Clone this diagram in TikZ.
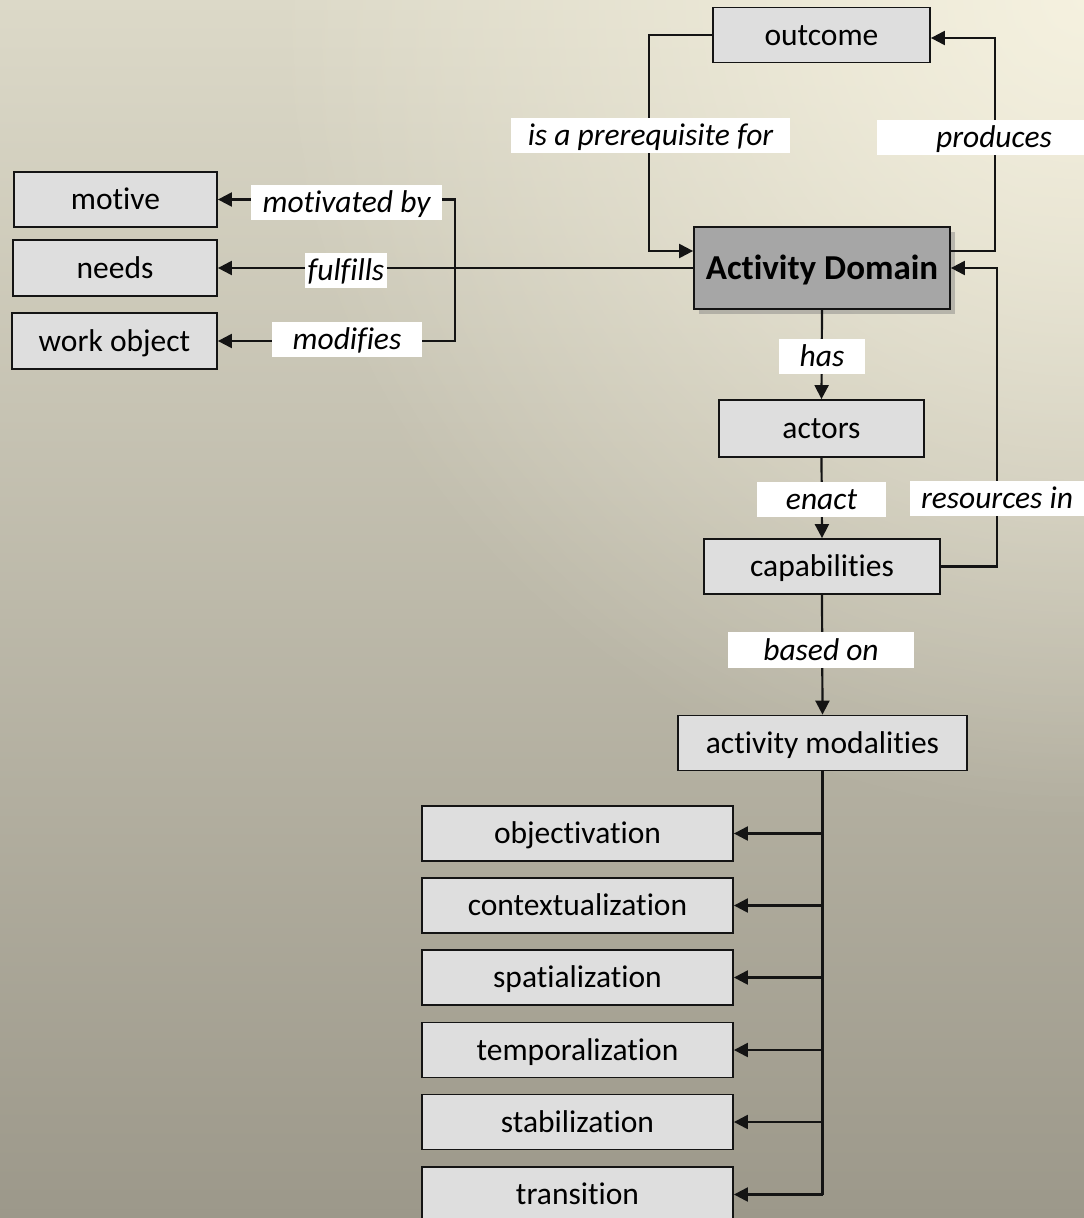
\documentclass[tikz,border=0pt]{standalone}
\usepackage{fontspec}
\setmainfont{Carlito}[Ligatures={NoCommon}]
\usetikzlibrary{arrows.meta,shadows,fadings}
\definecolor{bgtop}{HTML}{DCD9C8}
\definecolor{bgbot}{HTML}{9C988A}
\definecolor{bglight}{HTML}{F8F4E2}
\definecolor{boxfill}{HTML}{DEDEDE}
\definecolor{adfill}{HTML}{A6A6A6}
\definecolor{ink}{HTML}{141414}
\tikzfading[name=myglow, inner color=transparent!0, outer color=transparent!100]
\begin{document}
\begin{tikzpicture}[x=1pt,y=-1pt,
  box/.style={draw=ink, line width=1.8pt, fill=boxfill, inner sep=0pt,
    font=\fontsize{31.5}{38}\selectfont, text height=24pt, text depth=4pt, minimum height=55pt},
  adbox/.style={draw=ink, line width=1.8pt, fill=adfill, inner sep=0pt,
    font=\fontsize{35}{42}\selectfont\bfseries, text height=26pt, text depth=4pt,
    minimum width=256pt, minimum height=82pt,
    drop shadow={opacity=0.45, shadow xshift=5pt, shadow yshift=-5pt}},
  lbl/.style={fill=white, inner sep=0pt, font=\fontsize{31.5}{38}\selectfont\itshape,
    text height=24pt, text depth=4pt, minimum height=35pt},
  ln/.style={draw=ink, line width=2.2pt},
  arr/.style={ln, -{Triangle[length=14pt,width=14pt]}}]
\useasboundingbox (0,0) rectangle (1084,1218);
\shade[top color=bgtop, bottom color=bgbot] (0,0) rectangle (1084,1218);
\fill[bglight, path fading=myglow, fit fading=true, opacity=0.9] (1084,0) circle (820);

% nodes
\node[box, minimum width=217pt] (outcome) at (821.5,35) {outcome};
\node[adbox] (AD) at (822,268) {Activity Domain};
\node[box, minimum width=203pt] (motive) at (115.5,199.5) {motive};
\node[box, minimum width=204pt, minimum height=56pt] (needs) at (115,268) {needs};
\node[box, minimum width=205pt, minimum height=56pt] (work) at (114.5,341) {work object};
\node[box, minimum width=205pt, minimum height=57pt] (actors) at (821.5,428.5) {actors};
\node[box, minimum width=236pt] (cap) at (822,566.5) {capabilities};
\node[box, minimum width=289pt] (mod) at (822.5,743) {activity modalities};
\node[box, minimum width=311pt] (obj) at (577.5,833.5) {objectivation};
\node[box, minimum width=311pt] (ctx) at (577.5,905.5) {contextualization};
\node[box, minimum width=311pt] (spa) at (577.5,977.5) {spatialization};
\node[box, minimum width=311pt] (tmp) at (577.5,1050) {temporalization};
\node[box, minimum width=311pt] (sta) at (577.5,1122) {stabilization};
\node[box, minimum width=311pt] (tra) at (577.5,1194.5) {transition};

% connectors
\draw[arr] (outcome.west) -- ++(-63,0) |- ([yshift=17pt]AD.west);
\draw[arr] ([yshift=17pt]AD.east) -- ++(44,0) |- ([yshift=-3pt]outcome.east);
\draw[arr] (AD.west) -- (needs.east);
\coordinate (br) at (455,268);
\draw[arr] (br) |- (motive.east);
\draw[arr] (br) |- (work.east);
\draw[arr] (AD.south) -- (actors.north);
\draw[arr] (actors.south) -- (cap.north);
\draw[arr] (cap.east) -- ++(56,0) |- (AD.east);
\draw[arr] (cap.south) -- (mod.north);
\draw[ln] (mod.south) -- (mod.south |- tra.east);
\foreach \n in {obj,ctx,spa,tmp,sta,tra}
  \draw[arr] (mod.south |- \n.east) -- (\n.east);

% labels
\node[lbl, minimum width=279pt] (l1) at (650.5,135.5) {is a prerequisite for};
\node[lbl, minimum width=234pt] (l2) at (994,137.5) {produces};
\node[lbl, minimum width=191pt] (l3) at (346.5,202) {motivated by};
\node[lbl, minimum width=82pt] (l4) at (346,270) {fulfills};
\node[lbl, minimum width=150pt] (l5) at (347,339.5) {modifies};
\node[lbl, minimum width=86pt] (l6) at (822,356.5) {has};
\node[lbl, minimum width=129pt] (l7) at (821.5,499.5) {enact};
\node[lbl, minimum width=174pt] (l8) at (997,498.5) {resources in};
\node[lbl, minimum width=186pt, minimum height=36pt] (l9) at (821,650) {based on};
\end{tikzpicture}
\end{document}
